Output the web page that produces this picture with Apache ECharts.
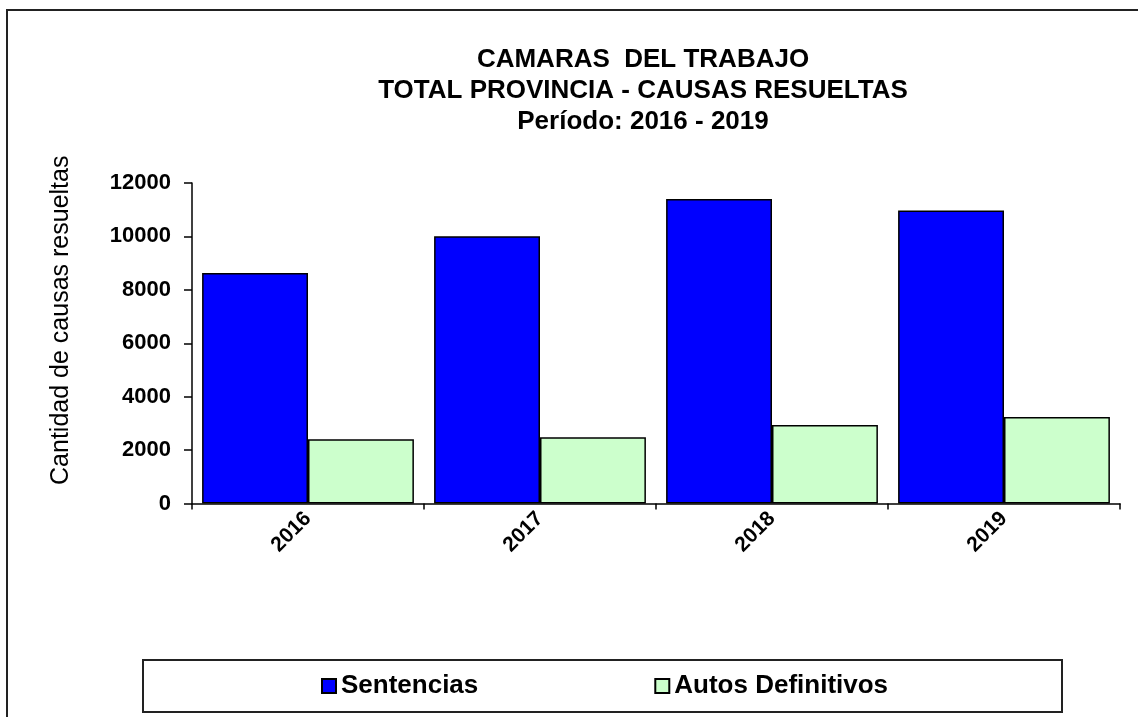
<!DOCTYPE html>
<html>
<head>
<meta charset="utf-8">
<script src="https://cdn.jsdelivr.net/npm/echarts@6/dist/echarts.min.js"></script>
<style>
  html, body { margin: 0; padding: 0; background: #fff; }
  #chart { width: 1138px; height: 717px; }
</style>
</head>
<body>
<div id="chart"></div>
<script>
// datos
var years = ["2016", "2017", "2018", "2019"];
var sentencias = [8630, 10010, 11400, 10970];
var autosDefinitivos = [2410, 2480, 2940, 3240];
var yTicks = [0, 2000, 4000, 6000, 8000, 10000, 12000];

var font = "'Liberation Sans', Arial, sans-serif";
var chart = echarts.init(document.getElementById("chart"));

var option = {
  backgroundColor: "#fff",
  title: {
    text: "CAMARAS  DEL TRABAJO\nTOTAL PROVINCIA - CAUSAS RESUELTAS\nPeríodo: 2016 - 2019",
    left: 638,
    top: 39,
    textAlign: "center",
    textStyle: {
      fontFamily: font,
      fontWeight: "bold",
      fontSize: 26,
      lineHeight: 31,
      color: "#000"
    }
  },
  // marco exterior y recuadro de la leyenda
  graphic: [
    {
      type: "rect",
      shape: { x: 7, y: 10, width: 1200, height: 800 },
      style: { fill: "none", stroke: "#222", lineWidth: 2 },
      silent: true
    },
    {
      type: "rect",
      shape: { x: 143, y: 660, width: 919, height: 52 },
      style: { fill: "none", stroke: "#222", lineWidth: 2 },
      silent: true
    }
  ],
  legend: {
    left: 321,
    top: 673,
    padding: 0,
    itemWidth: 14,
    itemHeight: 14,
    itemGap: 176,
    icon: "rect",
    textStyle: {
      fontFamily: font,
      fontWeight: "bold",
      fontSize: 26,
      color: "#000"
    },
    data: ["Sentencias", "Autos Definitivos"]
  },
  grid: {
    left: 192,
    right: 18,
    top: 183,
    bottom: 213.5
  },
  xAxis: {
    type: "category",
    data: years,
    axisLine: { lineStyle: { color: "#000", width: 1.5 } },
    axisTick: { show: true, interval: 0, length: 6, lineStyle: { color: "#000", width: 1.5 } },
    axisLabel: {
      rotate: 45,
      margin: 12,
      fontFamily: font,
      fontWeight: "bold",
      fontSize: 21,
      color: "#000"
    }
  },
  yAxis: {
    type: "value",
    min: yTicks[0],
    max: yTicks[yTicks.length - 1],
    interval: 2000,
    name: "Cantidad de causas resueltas",
    nameLocation: "middle",
    nameGap: 118,
    nameTextStyle: {
      fontFamily: font,
      fontSize: 25,
      color: "#000",
      padding: [0, 0, 0, 46]
    },
    axisLine: { show: true, lineStyle: { color: "#000", width: 1.5 } },
    axisTick: { show: true, length: 8, lineStyle: { color: "#000", width: 1.5 } },
    splitLine: { show: false },
    axisLabel: {
      margin: 21,
      fontFamily: font,
      fontWeight: "bold",
      fontSize: 22,
      color: "#000",
      formatter: function (v) { return String(v); }
    }
  },
  series: [
    {
      name: "Sentencias",
      type: "bar",
      data: sentencias,
      barGap: "0%",
      barCategoryGap: "8.7%",
      itemStyle: { color: "#0000FF", borderColor: "#000", borderWidth: 1.5 }
    },
    {
      name: "Autos Definitivos",
      type: "bar",
      data: autosDefinitivos,
      barGap: "0%",
      barCategoryGap: "8.7%",
      itemStyle: { color: "#CCFFCC", borderColor: "#000", borderWidth: 1.5 }
    }
  ]
};

chart.setOption(option);
</script>
</body>
</html>
